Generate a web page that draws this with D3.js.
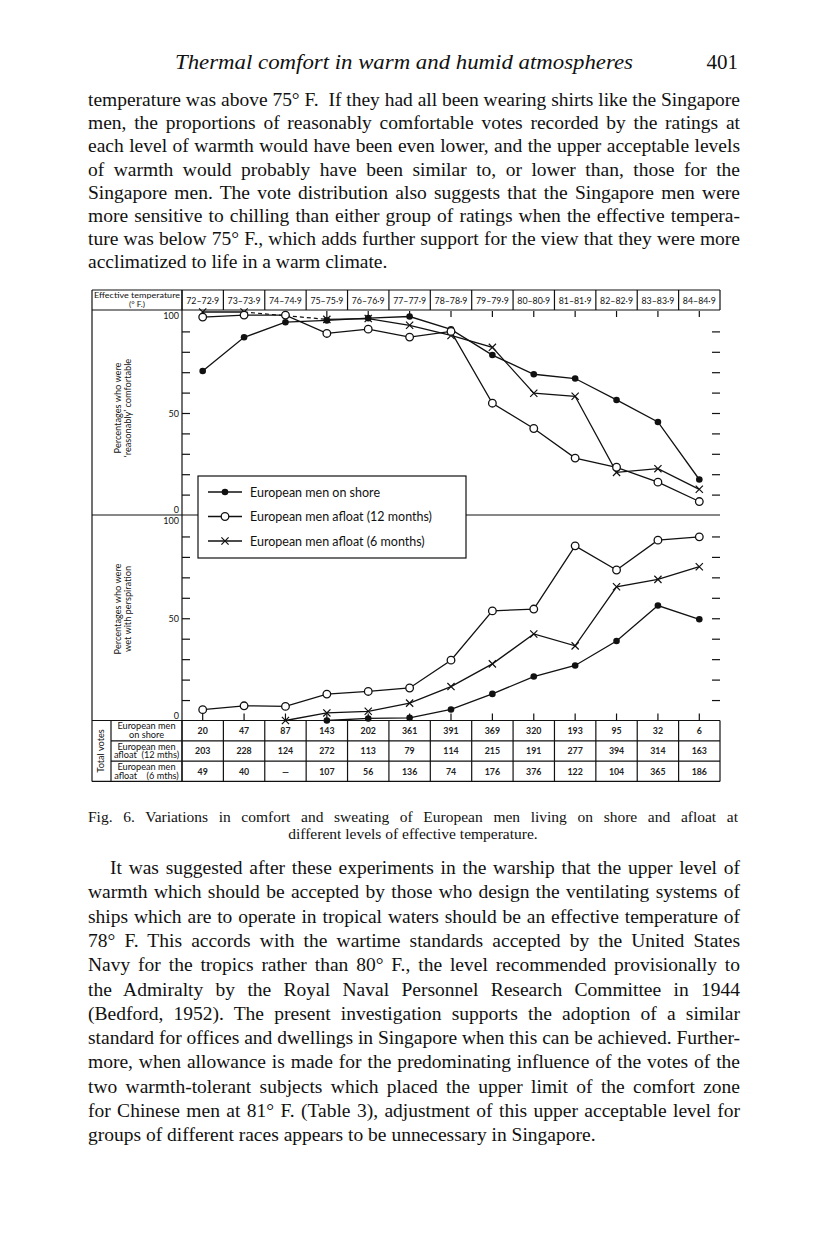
<!DOCTYPE html>
<html>
<head>
<meta charset="utf-8">
<script src="https://cdn.jsdelivr.net/npm/d3@7"></script>
<style>
body{margin:0;background:#fff}
svg{display:block}
</style>
</head>
<body>
<svg id="page"></svg>
<script>
// effective temperature classes (deg F)
var ranges = ["72–72·9","73–73·9","74–74·9","75–75·9","76–76·9","77–77·9","78–78·9","79–79·9","80–80·9","81–81·9","82–82·9","83–83·9","84–84·9"]

// % 'reasonably' comfortable
var shoreComfort = [70.6, 87.1, 94.5, 95.4, 96.5, 97.3, 91, 78.4, 69, 66.9, 56.4, 45.6, 17.4]
var afloat12Comfort = [97, 98, 98, 89, 91.1, 87.2, 90, 54.8, 42.4, 27.9, 23.4, 16.1, 6.6]
var afloat6Comfort = [99.5, 99.5, null, 95.9, 96.3, 93, 88, 82.2, 59.7, 58.2, 20.9, 22.7, 12.6]

// % wet with perspiration
var shoreWet = [null, null, null, 0, 1, 1.3, 5.4, 13, 21.5, 26.9, 38.9, 56.2, 49.5]
var afloat12Wet = [5.3, 7.2, 6.9, 12.9, 14.2, 15.9, 29.5, 53.6, 54.5, 85.4, 73.6, 88.2, 89.8]
var afloat6Wet = [null, null, 0, 3.7, 4.5, 8.5, 16.6, 27.7, 42.3, 36.5, 65.4, 69, 75.2]

// total votes
var votesShore = ["20","47","87","143","202","361","391","369","320","193","95","32","6"]
var votes12 = ["203","228","124","272","113","79","114","215","191","277","394","314","163"]
var votes6 = ["49","40","—","107","56","136","74","176","376","122","104","365","186"]

var seriesNames = ["European men on shore", "European men afloat (12 months)", "European men afloat (6 months)"]
var rowLabels = [["European men","on shore"],["European men","afloat  (12 mths)"],["European men","afloat    (6 mths)"]]

var headText = "Thermal comfort in warm and humid atmospheres"
var para1 = [
  "temperature was above 75° F.  If they had all been wearing shirts like the Singapore",
  "men, the proportions of reasonably comfortable votes recorded by the ratings at",
  "each level of warmth would have been even lower, and the upper acceptable levels",
  "of warmth would probably have been similar to, or lower than, those for the",
  "Singapore men. The vote distribution also suggests that the Singapore men were",
  "more sensitive to chilling than either group of ratings when the effective tempera-",
  "ture was below 75° F., which adds further support for the view that they were more",
  "acclimatized to life in a warm climate."
]
var caption = [
  "Fig. 6. Variations in comfort and sweating of European men living on shore and afloat at",
  "different levels of effective temperature."
]
var para2 = [
  "It was suggested after these experiments in the warship that the upper level of",
  "warmth which should be accepted by those who design the ventilating systems of",
  "ships which are to operate in tropical waters should be an effective temperature of",
  "78° F. This accords with the wartime standards accepted by the United States",
  "Navy for the tropics rather than 80° F., the level recommended provisionally to",
  "the Admiralty by the Royal Naval Personnel Research Committee in 1944",
  "(Bedford, 1952). The present investigation supports the adoption of a similar",
  "standard for offices and dwellings in Singapore when this can be achieved. Further-",
  "more, when allowance is made for the predominating influence of the votes of the",
  "two warmth-tolerant subjects which placed the upper limit of the comfort zone",
  "for Chinese men at 81° F. (Table 3), adjustment of this upper acceptable level for",
  "groups of different races appears to be unnecessary in Singapore."
]

var svg = d3.select("#page").attr("width", 816).attr("height", 1245)
var serif = "'Liberation Serif', 'Times New Roman', serif"
var sans = "Lato, 'Open Sans', sans-serif"

// ---------- page text ----------
function justify(t, width) {
  var len = t.node().getComputedTextLength()
  var n = (t.text().match(/ /g) || []).length
  if (len > width) {
    t.attr("textLength", width).attr("lengthAdjust", "spacingAndGlyphs")
  } else if (n) {
    t.style("word-spacing", ((width - len) / n) + "px")
  }
}
function textBlock(lines, x0, x1, y0, step, size, indent, lastFree) {
  lines.forEach(function(s, i) {
    var xs = x0 + (i == 0 ? indent : 0)
    var t = svg.append("text")
      .attr("x", xs).attr("y", y0 + i * step)
      .attr("font-family", serif).attr("font-size", size).attr("fill", "#111")
      .style("white-space", "pre")
      .text(s)
    if (!(lastFree && i == lines.length - 1)) justify(t, x1 - xs)
  })
}

svg.append("text").attr("x", 175).attr("y", 69)
  .attr("font-family", serif).attr("font-style", "italic").attr("font-size", 21).attr("fill", "#111")
  .attr("textLength", 458).attr("lengthAdjust", "spacingAndGlyphs")
  .text(headText)
svg.append("text").attr("x", 738).attr("y", 69).attr("text-anchor", "end")
  .attr("font-family", serif).attr("font-size", 21).attr("fill", "#111")
  .text("401")

textBlock(para1, 88, 740, 106, 23.2, 19.5, 0, true)
textBlock(caption.slice(0, 1), 88, 738, 822, 17, 15.5, 0, false)
svg.append("text").attr("x", 413).attr("y", 839).attr("text-anchor", "middle")
  .attr("font-family", serif).attr("font-size", 15.5).attr("fill", "#111").text(caption[1])
textBlock(para2, 88, 740, 874, 24.3, 19.5, 22, true)

// ---------- figure ----------
var L = 92, AX = 182, R = 720
var hTop = 290, hBot = 310
var tblTop = 720.5, rowH = 20.3

var x = d3.scaleBand().domain(ranges).range([AX, R])
var cx = function(i) { return x(ranges[i]) + x.bandwidth() / 2 }
var yTop = d3.scaleLinear().domain([0, 100]).range([515, 311])
var yBot = d3.scaleLinear().domain([0, 100]).range([tblTop, 516])

var fig = svg.append("g").attr("stroke", "#111").attr("stroke-width", 1.2).attr("fill", "none")

function hline(y, a, b) { fig.append("line").attr("x1", a).attr("x2", b).attr("y1", y).attr("y2", y) }
function vline(xx, a, b) { fig.append("line").attr("x1", xx).attr("x2", xx).attr("y1", a).attr("y2", b) }

hline(hTop, L, R); hline(hBot, L, R); hline(515, L, R)
hline(tblTop, L, R); hline(tblTop + rowH, 111, R); hline(tblTop + 2 * rowH, 111, R); hline(tblTop + 3 * rowH, L, R)
vline(L, hTop, tblTop + 3 * rowH); vline(AX, hTop, tblTop + 3 * rowH); vline(111, tblTop, tblTop + 3 * rowH)
vline(R, hTop, hBot); vline(R, tblTop, tblTop + 3 * rowH)
ranges.forEach(function(r) {
  vline(x(r), hTop, hBot)
  vline(x(r), tblTop, tblTop + 3 * rowH)
})

// ticks through d3 axes
function ticks(axis, tx, ty) {
  var g = svg.append("g").attr("transform", "translate(" + tx + "," + ty + ")").call(axis)
  g.select(".domain").remove()
  g.selectAll("line").attr("stroke", "#111").attr("stroke-width", 1.2)
  g.selectAll("text").remove()
}
var tv = d3.range(10, 100, 10)
ticks(d3.axisRight(yTop).tickValues(tv).tickSize(8), AX, 0)
ticks(d3.axisLeft(yTop).tickValues(tv).tickSize(8), R, 0)
ticks(d3.axisRight(yBot).tickValues(tv).tickSize(8), AX, 0)
ticks(d3.axisLeft(yBot).tickValues(tv).tickSize(8), R, 0)
ticks(d3.axisBottom(x).tickSize(6), 0, 311)
ticks(d3.axisTop(x).tickSize(7), 0, tblTop)

// y labels
function ylab(y, v, dy) {
  svg.append("text").attr("x", 179).attr("y", y(v) + dy).attr("text-anchor", "end")
    .attr("font-family", sans).attr("font-size", 9).attr("fill", "#111").text(v)
}
ylab(yTop, 100, 8); ylab(yTop, 50, 3.5); ylab(yTop, 0, -2)
ylab(yBot, 100, 8); ylab(yBot, 50, 3.5); ylab(yBot, 0, -2)

// header row
svg.append("text").attr("x", 137).attr("y", 297.5).attr("text-anchor", "middle")
  .attr("font-family", sans).attr("font-size", 8.4).attr("fill", "#111")
  .attr("textLength", 86).attr("lengthAdjust", "spacingAndGlyphs").text("Effective temperature")
svg.append("text").attr("x", 137).attr("y", 307.2).attr("text-anchor", "middle")
  .attr("font-family", sans).attr("font-size", 8.4).attr("fill", "#111").text("(° F.)")
svg.append("g").selectAll("text").data(ranges).join("text")
  .attr("x", function(d) { return x(d) + x.bandwidth() / 2 })
  .attr("y", 303.5).attr("text-anchor", "middle")
  .attr("font-family", sans).attr("font-size", 8.8).attr("fill", "#111")
  .text(function(d) { return d })

// rotated axis titles
function rotTitle(lines, cy) {
  lines.forEach(function(s, i) {
    svg.append("text").attr("transform", "translate(" + (121 + i * 10) + "," + cy + ") rotate(-90)")
      .attr("text-anchor", "middle").attr("font-family", sans).attr("font-size", 9.2).attr("fill", "#111")
      .text(s)
  })
}
rotTitle(["Percentages who were", "‘reasonably’ comfortable"], 408)
rotTitle(["Percentages who were", "wet with perspiration"], 609)

// table
svg.append("text").attr("transform", "translate(104," + (tblTop + 1.5 * rowH) + ") rotate(-90)")
  .attr("text-anchor", "middle").attr("font-family", sans).attr("font-size", 9.2).attr("fill", "#111")
  .text("Total votes")
rowLabels.forEach(function(lab, r) {
  lab.forEach(function(s, j) {
    svg.append("text").attr("x", 146.5).attr("y", tblTop + r * rowH + 8.8 + j * 8.8)
      .attr("text-anchor", "middle").attr("font-family", sans).attr("font-size", 9.2).attr("fill", "#111")
      .style("white-space", "pre").text(s)
  })
})
;[votesShore, votes12, votes6].forEach(function(row, r) {
  svg.append("g").selectAll("text").data(row).join("text")
    .attr("x", function(d, i) { return cx(i) })
    .attr("y", tblTop + r * rowH + rowH / 2 + 3.5)
    .attr("text-anchor", "middle").attr("font-family", sans).attr("font-size", 8.8)
    .attr("font-weight", "bold").attr("fill", "#222")
    .text(function(d) { return d })
})

// series lines
function drawSeries(vals, y) {
  var pts = vals.map(function(v, i) { return {i: i, v: v} })
  var line = d3.line().defined(function(d) { return d.v != null })
    .x(function(d) { return cx(d.i) }).y(function(d) { return y(d.v) })
  fig.append("path").attr("d", line(pts)).attr("stroke-width", 1.3)
  // dashed bridge over missing class
  for (var i = 1; i < vals.length - 1; i++) {
    if (vals[i] == null) {
      var a = i - 1, b = i + 1
      while (b < vals.length && vals[b] == null) b++
      if (vals[a] != null && b < vals.length) {
        fig.append("line").attr("x1", cx(a)).attr("y1", y(vals[a])).attr("x2", cx(b)).attr("y2", y(vals[b]))
          .attr("stroke-dasharray", "4,3").attr("stroke-width", 1.2)
      }
    }
  }
}
function drawMarks(vals, y, kind) {
  vals.forEach(function(v, i) {
    if (v == null) return
    marker(svg, kind, cx(i), y(v))
  })
}
function marker(g, kind, px, py) {
  if (kind == 0) {
    g.append("circle").attr("cx", px).attr("cy", py).attr("r", 3.3).attr("fill", "#111")
  } else if (kind == 1) {
    g.append("circle").attr("cx", px).attr("cy", py).attr("r", 3.8).attr("fill", "#fff")
      .attr("stroke", "#111").attr("stroke-width", 1.3)
  } else {
    g.append("path").attr("d", "M" + (px - 3.6) + "," + (py - 3.6) + "L" + (px + 3.6) + "," + (py + 3.6) +
      "M" + (px - 3.6) + "," + (py + 3.6) + "L" + (px + 3.6) + "," + (py - 3.6))
      .attr("stroke", "#111").attr("stroke-width", 1.2).attr("fill", "none")
  }
}

var top3 = [shoreComfort, afloat12Comfort, afloat6Comfort]
var bot3 = [shoreWet, afloat12Wet, afloat6Wet]
top3.forEach(function(s) { drawSeries(s, yTop) })
bot3.forEach(function(s) { drawSeries(s, yBot) })
;[2, 0, 1].forEach(function(k) { drawMarks(top3[k], yTop, k); drawMarks(bot3[k], yBot, k) })

// legend
var lg = svg.append("g")
lg.append("rect").attr("x", 198).attr("y", 476).attr("width", 268).attr("height", 82)
  .attr("fill", "#fff").attr("stroke", "#111").attr("stroke-width", 1.2)
seriesNames.forEach(function(name, k) {
  var ly = 492 + k * 24.5
  lg.append("line").attr("x1", 208).attr("x2", 242).attr("y1", ly).attr("y2", ly)
    .attr("stroke", "#111").attr("stroke-width", 1.3)
  marker(lg, k, 225, ly)
  lg.append("text").attr("x", 250).attr("y", ly + 4.5)
    .attr("font-family", sans).attr("font-size", 12.5).attr("fill", "#111").text(name)
})
</script>
</body>
</html>
